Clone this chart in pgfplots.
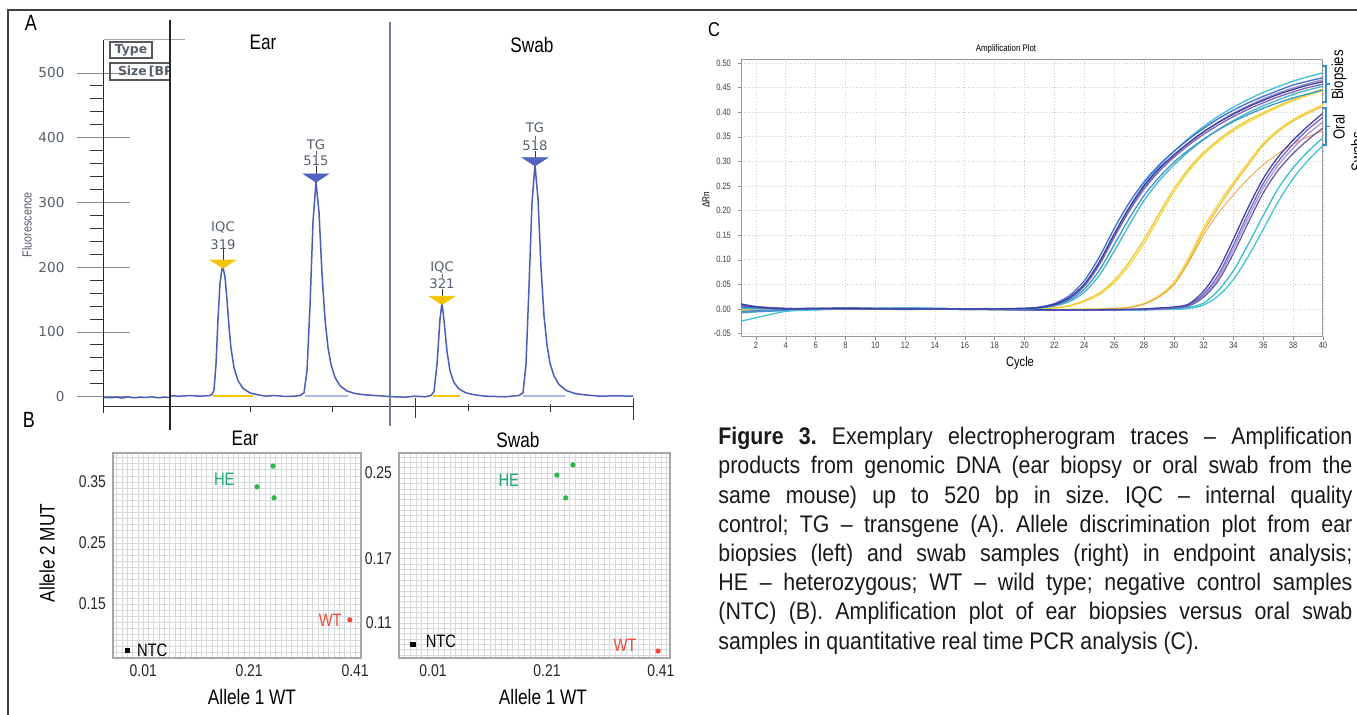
\documentclass[border=0pt]{standalone}
\usepackage{pgfplots}
\pgfplotsset{compat=1.18}
\usepackage{pgfplotstable}
\usepackage{fontspec}
\setmainfont{Liberation Sans}
\newfontfamily\nar{Liberation Sans}[FakeStretch=0.82]
\newfontfamily\capf{Liberation Sans}[FakeStretch=0.89]
\newfontfamily\dv{DejaVu Sans}

\definecolor{trace}{HTML}{4A5DB8}
\definecolor{iqcyel}{HTML}{F2C500}
\definecolor{tgblue}{HTML}{5064C0}
\definecolor{labgray}{HTML}{56606C}
\definecolor{slate}{HTML}{6E7C8C}
\definecolor{gridc}{HTML}{D6DADC}
\definecolor{framec}{HTML}{A2A8AC}
\definecolor{hegreen}{HTML}{2DB84A}
\definecolor{helab}{HTML}{1FA774}
\definecolor{wtred}{HTML}{F04A36}
\definecolor{brk}{HTML}{3A8CCC}
\definecolor{cB1}{HTML}{3A3F9E}
\definecolor{cB2}{HTML}{3F6FD0}
\definecolor{cB3}{HTML}{8062B8}
\definecolor{cB4}{HTML}{3FC0D8}
\definecolor{cB5}{HTML}{45B5C8}
\definecolor{cB6}{HTML}{A08AD0}
\definecolor{cB7}{HTML}{3A9AD0}
\definecolor{cY1}{HTML}{F4D84A}
\definecolor{cY2}{HTML}{EECB3A}
\definecolor{cS1}{HTML}{EFC23A}
\definecolor{cS2}{HTML}{F5D650}
\definecolor{cS3}{HTML}{F0A040}
\definecolor{cP1}{HTML}{7A68C0}
\definecolor{cP2}{HTML}{3C45A8}
\definecolor{cP3}{HTML}{A896D8}
\definecolor{cP4}{HTML}{6A5CB0}
\definecolor{cC1}{HTML}{3CBCCC}
\definecolor{cC2}{HTML}{48C4D4}

% electropherogram trace (x = scan position, y = fluorescence)
\pgfplotstableread{
x y
104 -1
110 -1.5
116 -0.5
122 -2
128 0
134 -1.5
140 -0.5
146 -1
152 0
158 -1.5
164 -0.5
170 -1
171 1.5
180 1
190 2
200 1
206 1.5
210 2
212 4
214 10
216 50
218 120
220 175
222 198
223 200
225 185
227 150
229 108
231 75
234 45
238 25
243 13
250 6
258 3
266 1
275 2
285 0.5
295 1
300 2
304 6
307 40
310 140
313 270
316 332
319 285
322 190
325 120
328 76
331 50
335 30
340 17
347 9
355 5
365 3
375 2
385 1
395 0
405 -0.5
415 1
425 0
431 2
434 8
437 50
440 120
442 145
444 118
447 70
450 40
454 22
459 12
466 6
475 3
485 1
495 0.5
505 0
512 1
519 2
523 6
526 50
529 170
532 300
535 358
538 305
541 200
544 125
547 80
550 52
554 32
559 19
566 10
575 5
585 3
600 1
615 1.5
633 1
}\tracetab

% amplification curves, biopsies
\pgfplotstableread{
c   B1     B2     B3     B4     B5     B6     B7     Y1     Y2
1   0.010  0.004  0.006 -0.025  0.002  0.008 -0.006 -0.003 -0.002
2   0.004  0.003  0.003 -0.018  0.001  0.004 -0.005 -0.002 -0.001
4   0.000  0.001  0.000 -0.005  0.000  0.001 -0.002  0.000  0.000
6   0.001  0.000  0.001 -0.002  0.001  0.000 -0.001  0.001  0.000
8   0.001  0.001  0.000  0.000  0.001  0.001  0.000  0.000  0.001
10  0.000  0.001  0.001  0.001  0.000  0.000  0.001  0.001  0.000
12  0.000  0.000  0.001  0.002  0.001  0.000  0.001  0.001  0.001
14  0.000  0.001  0.000  0.001  0.000  0.001  0.000  0.000  0.000
16  0.000  0.000  0.000  0.000  0.000 -0.001  0.000 -0.001  0.000
18  0.000  0.000  0.000  0.001  0.000  0.000  0.000 -0.001 -0.001
20  0.001  0.001  0.001  0.001  0.000  0.001  0.000 -0.001 -0.001
21  0.003  0.004  0.003  0.003  0.002  0.003  0.002  0.000  0.000
22  0.009  0.011  0.008  0.009  0.006  0.009  0.007  0.002  0.002
23  0.023  0.027  0.021  0.022  0.015  0.022  0.018  0.006  0.007
24  0.050  0.057  0.046  0.048  0.034  0.048  0.040  0.015  0.017
25  0.095  0.105  0.089  0.093  0.068  0.092  0.078  0.029  0.032
26  0.152  0.163  0.145  0.150  0.117  0.148  0.130  0.053  0.058
27  0.205  0.215  0.198  0.205  0.170  0.200  0.183  0.088  0.095
28  0.250  0.258  0.243  0.252  0.220  0.246  0.230  0.133  0.141
29  0.285  0.292  0.279  0.290  0.260  0.282  0.267  0.185  0.193
30  0.313  0.320  0.308  0.320  0.292  0.311  0.298  0.237  0.244
31  0.338  0.345  0.333  0.347  0.320  0.337  0.323  0.280  0.285
32  0.360  0.367  0.355  0.371  0.344  0.360  0.345  0.314  0.318
33  0.379  0.387  0.374  0.392  0.365  0.380  0.364  0.340  0.344
34  0.396  0.404  0.391  0.410  0.383  0.398  0.381  0.362  0.366
35  0.411  0.419  0.406  0.426  0.399  0.413  0.395  0.380  0.384
36  0.424  0.432  0.419  0.440  0.413  0.427  0.408  0.396  0.399
37  0.436  0.444  0.431  0.452  0.425  0.439  0.419  0.410  0.413
38  0.446  0.455  0.441  0.463  0.436  0.449  0.429  0.423  0.426
39  0.455  0.463  0.450  0.472  0.445  0.458  0.437  0.434  0.437
40  0.462  0.470  0.457  0.480  0.453  0.466  0.445  0.444  0.447
}\biop

% amplification curves, oral swabs
\pgfplotstableread{
c   S1     S2     S3     P1     P2     P3     P4     C1     C2
1  -0.004 -0.003  0.000 -0.007  0.010  0.003 -0.005 -0.008  0.001
2  -0.003 -0.002  0.000 -0.005  0.005  0.002 -0.004 -0.006  0.000
4  -0.001  0.000  0.000 -0.003  0.001  0.000 -0.002 -0.003  0.000
6   0.000  0.001  0.000  0.000  0.001  0.000  0.000 -0.001  0.001
8   0.000  0.000  0.001  0.001  0.002  0.001  0.000  0.000  0.001
10  0.001  0.000  0.000  0.000  0.001  0.001  0.000  0.001  0.000
12  0.000  0.001  0.000 -0.001  0.000 -0.001  0.000  0.001  0.002
14  0.000  0.000  0.000  0.000  0.000  0.000  0.000  0.001  0.001
16  0.000  0.000 -0.001 -0.001  0.000  0.000 -0.001  0.000  0.000
18 -0.001  0.000 -0.001 -0.001 -0.001  0.000 -0.001  0.000 -0.001
20 -0.001 -0.001 -0.001 -0.002 -0.001 -0.001 -0.002 -0.001 -0.002
22 -0.001 -0.001 -0.001 -0.002 -0.002 -0.002 -0.002 -0.002 -0.002
24 -0.001  0.000 -0.001 -0.002 -0.002 -0.002 -0.002 -0.002 -0.002
25  0.000  0.000  0.000 -0.002 -0.002 -0.002 -0.002 -0.002 -0.002
26  0.001  0.001  0.001 -0.002 -0.001 -0.002 -0.002 -0.002 -0.002
27  0.003  0.003  0.003 -0.001 -0.001 -0.001 -0.001 -0.002 -0.002
28  0.010  0.011  0.010  0.000  0.000 -0.001 -0.001 -0.002 -0.002
29  0.025  0.027  0.024  0.001  0.002  0.000  0.000 -0.001 -0.001
30  0.050  0.054  0.049  0.003  0.004  0.002  0.002  0.000 -0.001
31  0.098  0.104  0.095  0.008  0.010  0.007  0.006  0.003  0.001
32  0.158  0.165  0.150  0.030  0.036  0.027  0.024  0.012  0.008
33  0.207  0.214  0.195  0.070  0.080  0.064  0.058  0.038  0.027
34  0.252  0.258  0.232  0.130  0.142  0.122  0.113  0.078  0.060
35  0.293  0.298  0.265  0.195  0.207  0.186  0.176  0.132  0.107
36  0.333  0.337  0.293  0.255  0.265  0.246  0.236  0.190  0.162
37  0.361  0.364  0.316  0.300  0.309  0.292  0.282  0.245  0.218
38  0.382  0.385  0.335  0.335  0.343  0.327  0.316  0.287  0.265
39  0.398  0.401  0.350  0.365  0.372  0.356  0.344  0.320  0.302
40  0.412  0.415  0.362  0.390  0.398  0.380  0.368  0.348  0.332
}\swab

\pgfplotsset{
  /pgf/number format/assume math mode=true,
  twodig/.style={/pgf/number format/.cd, fixed, fixed zerofill, precision=2},
}

\begin{document}
\begin{tikzpicture}[x=0.5pt,y=-0.5pt]
\useasboundingbox (0,0) rectangle (1357,715);
\clip (0,0) rectangle (1357,715);
\fill[white] (0,0) rectangle (1357,715);
\draw[black!75, line width=0.8pt] (8,715) -- (8,10) -- (1357,10);

% ---------------- panel A ----------------
\node[font=\nar\fontsize{11}{12}\selectfont] at (31,23) {A};
\begin{axis}[
  at={(52pt,-206.5pt)}, anchor=south west, scale only axis,
  width=268pt, height=186.5pt,
  xmin=104, xmax=640, ymin=-25, ymax=551,
  axis x line=none, axis y line=left,
  y axis line style={-, black!85, line width=0.5pt},
  ytick={0,100,...,500}, minor ytick={20,40,...,480},
  tick align=center, major tick length=26.5pt, minor tick length=7pt,
  major tick style={black!45, line width=0.5pt},
  minor tick style={black!80, line width=0.5pt, xshift=-3.5pt},
  yticklabel style={font=\dv\fontsize{6.8}{7}\selectfont, text=labgray, xshift=-3pt},
]
\addplot[iqcyel, line width=0.7pt] coordinates {(213,1) (253,1)};
\addplot[iqcyel, line width=0.7pt] coordinates {(433,1) (460,1)};
\addplot[tgblue!45, line width=0.7pt] coordinates {(305,1) (348,1)};
\addplot[tgblue!45, line width=0.7pt] coordinates {(523,1) (565,1)};
\addplot[trace, line width=0.75pt] table {\tracetab};
\addplot[only marks, mark=triangle*, mark size=3pt,
  mark options={rotate=180, xscale=2.4, yscale=0.9, fill=iqcyel, draw=iqcyel}]
  coordinates {(223,207) (442,151)};
\addplot[only marks, mark=triangle*, mark size=3pt,
  mark options={rotate=180, xscale=2.4, yscale=0.9, fill=tgblue, draw=tgblue}]
  coordinates {(316,340) (535,365)};
\draw[black!80, line width=0.4pt] (axis cs:223,211) -- (axis cs:223,228);
\draw[black!80, line width=0.4pt] (axis cs:316,344) -- (axis cs:316,356);
\draw[black!80, line width=0.4pt] (axis cs:442,155) -- (axis cs:442,166);
\draw[black!80, line width=0.4pt] (axis cs:535,369) -- (axis cs:535,379);
\draw[black!60, line width=0.3pt] (axis cs:316,374) -- (axis cs:316,380);
\draw[black!60, line width=0.3pt] (axis cs:535,397) -- (axis cs:535,403);
\draw[black!60, line width=0.3pt] (axis cs:442,184) -- (axis cs:442,190);
\begin{scope}[every node/.style={font=\dv\fontsize{6.6}{7}\selectfont, text=labgray}]
\node at (axis cs:223,261) {IQC};
\node at (axis cs:223,235) {319};
\node at (axis cs:316,390) {TG};
\node at (axis cs:316,364) {515};
\node at (axis cs:442,200) {IQC};
\node at (axis cs:442,174) {321};
\node at (axis cs:535,415) {TG};
\node at (axis cs:535,387) {518};
\end{scope}
\end{axis}
\draw[black!35, line width=0.5pt] (104,40) -- (185,40);
\draw[black!65, line width=0.6pt] (110,42) rectangle (152,58);
\node[font=\dv\bfseries\fontsize{6.2}{7}\selectfont, text=labgray] at (131,50) {Type};
\begin{scope}
\clip (100,55) rectangle (170,85);
\draw[black!65, line width=0.6pt] (110,63) rectangle (190,80);
\node[anchor=west, font=\dv\bfseries\fontsize{6.2}{7}\selectfont, text=labgray] at (111,71.5) {Size\,[BP]};
\end{scope}
\node[rotate=90, font=\nar\fontsize{6.6}{7}\selectfont, text=labgray] at (27,225) {Fluorescence};
\draw[black!80, line width=0.5pt] (104,407) -- (633,407);
\draw[black!80, line width=0.5pt] (250,407) -- (250,412);
\draw[black!80, line width=0.5pt] (332,407) -- (332,412);
\draw[black!80, line width=0.5pt] (415,398) -- (415,418);
\draw[black!80, line width=0.5pt] (468,404) -- (468,411);
\draw[black!80, line width=0.5pt] (550,404) -- (550,412);
\draw[black!80, line width=0.5pt] (633,398) -- (633,420);
\draw[black!85, line width=0.6pt] (170,20) -- (170,430);
\draw[slate, line width=0.7pt] (390,22) -- (390,426);
\node[font=\nar\fontsize{10.5}{12}\selectfont] at (263,42) {Ear};
\node[font=\nar\fontsize{10.5}{12}\selectfont] at (532,45) {Swab};

% ---------------- panel B ----------------
\node[font=\nar\fontsize{11}{12}\selectfont] at (29,420) {B};
\pgfplotsset{bplot/.style={
  scale only axis, anchor=south west,
  grid=both, grid style={gridc, line width=0.35pt},
  major tick length=0pt, minor tick length=0pt,
  axis line style={framec, line width=0.7pt},
  xticklabel style={twodig}, yticklabel style={twodig},
  ticklabel style={font=\nar\fontsize{8.5}{9}\selectfont, text=black!85},
}}
\begin{axis}[bplot, at={(56.5pt,-329pt)}, width=124pt, height=102.5pt,
  xmin=-0.047, xmax=0.421, ymin=0.0615, ymax=0.3975,
  xtick={0.01,0.21,0.41}, ytick={0.15,0.25,0.35},
  minor xtick={-0.04,-0.03,...,0.42}, minor ytick={0.07,0.08,...,0.39}]
\addplot[only marks, mark=*, mark size=1.1pt, hegreen] coordinates {(0.255,0.376) (0.225,0.342) (0.257,0.324)};
\addplot[only marks, mark=*, mark size=1.1pt, wtred] coordinates {(0.400,0.124)};
\addplot[only marks, mark=square*, mark size=1.1pt, black] coordinates {(-0.020,0.074)};
\node[font=\nar\fontsize{9}{10}\selectfont, text=helab] at (axis cs:0.163,0.355) {HE};
\node[font=\nar\fontsize{9}{10}\selectfont, text=wtred] at (axis cs:0.363,0.124) {WT};
\node[font=\nar\fontsize{9}{10}\selectfont] at (axis cs:0.027,0.074) {NTC};
\end{axis}
\node[font=\nar\fontsize{10.5}{12}\selectfont] at (245,438) {Ear};
\node[font=\nar\fontsize{10.5}{12}\selectfont] at (252,697) {Allele 1 WT};
\node[rotate=90, font=\nar\fontsize{10.5}{12}\selectfont] at (47,553) {Allele 2 MUT};

\begin{axis}[bplot, at={(199.5pt,-329pt)}, width=135.5pt, height=102.5pt,
  xmin=-0.0497, xmax=0.426, ymin=0.0774, ymax=0.2686,
  xtick={0.01,0.21,0.41}, ytick={0.11,0.17,0.25},
  minor xtick={-0.04,-0.03,...,0.42}, minor ytick={0.080,0.085,...,0.265}]
\addplot[only marks, mark=*, mark size=1.1pt, hegreen] coordinates {(0.2556,0.2575) (0.2275,0.248) (0.243,0.2267)};
\addplot[only marks, mark=*, mark size=1.1pt, wtred] coordinates {(0.405,0.0839)};
\addplot[only marks, mark=square*, mark size=1.1pt, black] coordinates {(-0.025,0.0902)};
\node[font=\nar\fontsize{9}{10}\selectfont, text=helab] at (axis cs:0.143,0.2435) {HE};
\node[font=\nar\fontsize{9}{10}\selectfont, text=wtred] at (axis cs:0.347,0.0894) {WT};
\node[font=\nar\fontsize{9}{10}\selectfont] at (axis cs:0.024,0.0931) {NTC};
\end{axis}
\node[font=\nar\fontsize{10.5}{12}\selectfont] at (518,440) {Swab};
\node[font=\nar\fontsize{10.5}{12}\selectfont] at (543,697) {Allele 1 WT};

% ---------------- panel C ----------------
\node[font=\nar\fontsize{10}{12}\selectfont] at (714,30) {C};
\begin{axis}[at={(370.5pt,-168.5pt)}, anchor=south west, scale only axis,
  width=291pt, height=138.5pt,
  xmin=1, xmax=40, ymin=-0.057, ymax=0.506,
  xtick={2,4,...,40},
  ytick={-0.05,0,0.05,0.1,0.15,0.2,0.25,0.3,0.35,0.4,0.45,0.5},
  yticklabel style={twodig},
  xticklabel style={yshift=2.5pt},
  grid=major, major grid style={densely dotted, black!20, line width=0.4pt},
  axis line style={black!40, line width=0.5pt},
  tick style={black!45}, tick align=outside, major tick length=1.5pt, tick pos=left,
  ticklabel style={font=\nar\fontsize{4.6}{5}\selectfont, text=black!75},
  every axis plot/.append style={smooth, line width=0.65pt},
]
\addplot[cY1] table[x=c,y=Y1] {\biop};
\addplot[cY2] table[x=c,y=Y2] {\biop};
\addplot[cS1] table[x=c,y=S1] {\swab};
\addplot[cS2] table[x=c,y=S2] {\swab};
\addplot[cS3, line width=0.4pt] table[x=c,y=S3] {\swab};
\addplot[cC1] table[x=c,y=C1] {\swab};
\addplot[cC2] table[x=c,y=C2] {\swab};
\addplot[cP3] table[x=c,y=P3] {\swab};
\addplot[cP4] table[x=c,y=P4] {\swab};
\addplot[cP1] table[x=c,y=P1] {\swab};
\addplot[cP2] table[x=c,y=P2] {\swab};
\addplot[cB5] table[x=c,y=B5] {\biop};
\addplot[cB7] table[x=c,y=B7] {\biop};
\addplot[cB4] table[x=c,y=B4] {\biop};
\addplot[cB6] table[x=c,y=B6] {\biop};
\addplot[cB3] table[x=c,y=B3] {\biop};
\addplot[cB2] table[x=c,y=B2] {\biop};
\addplot[cB1] table[x=c,y=B1] {\biop};
\end{axis}
\node[font=\nar\fontsize{4.8}{5}\selectfont] at (1006,49) {Amplification Plot};
\node[rotate=90, font=\nar\fontsize{5}{6}\selectfont] at (706,200) {ΔRn};
\node[font=\nar\fontsize{6.8}{8}\selectfont] at (1020,363) {Cycle};
\draw[brk, line width=0.6pt] (1322,66) -- (1326,66) -- (1326,102) -- (1322,102) (1326,84) -- (1330,84);
\draw[brk, line width=0.6pt] (1322,108) -- (1326,108) -- (1326,145) -- (1322,145) (1326,126.5) -- (1330,126.5);
\node[rotate=90, font=\nar\fontsize{8}{9}\selectfont] at (1339,75) {Biopsies};
\node[rotate=90, font=\nar\fontsize{8}{9}\selectfont] at (1339,127) {Oral};
\node[rotate=90, font=\nar\fontsize{8}{9}\selectfont] at (1357,152) {Swabs};

% ---------------- caption ----------------
\node[anchor=north west, inner sep=0pt, text width=317pt, align=justify,
  font=\capf\fontsize{12}{14.6}\selectfont\frenchspacing, text=black!90] at (718,427) {%
\textbf{Figure 3.} Exemplary electropherogram traces – Amplification\linebreak
products from genomic DNA (ear biopsy or oral swab from the\linebreak
same mouse) up to 520 bp in size. IQC – internal quality\linebreak
control; TG – transgene (A). Allele discrimination plot from ear\linebreak
biopsies (left) and swab samples (right) in endpoint analysis;\linebreak
HE – heterozygous; WT – wild type; negative control samples\linebreak
(NTC) (B). Amplification plot of ear biopsies versus oral swab\linebreak
samples in quantitative real time PCR analysis (C).};
\end{tikzpicture}
\end{document}
